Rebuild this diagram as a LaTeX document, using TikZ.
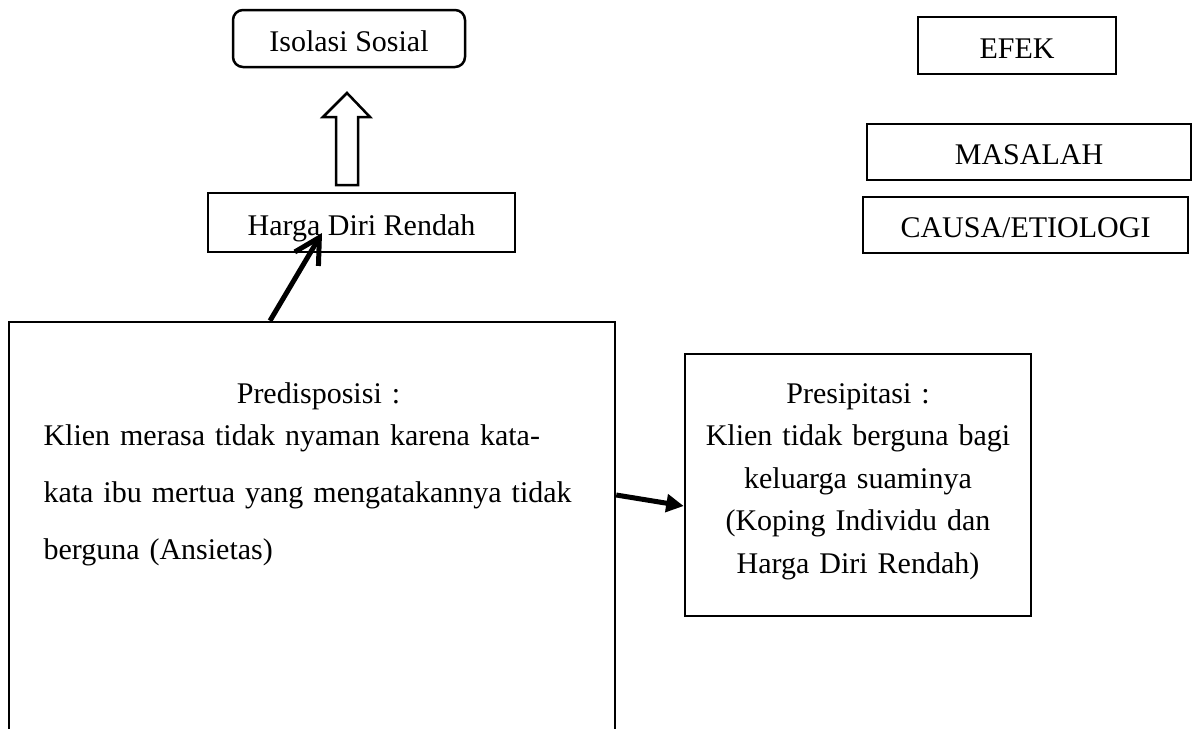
\documentclass[tikz,border=0pt]{standalone}
\usepackage{fontspec}
\setmainfont{Liberation Serif}
\usetikzlibrary{arrows.meta,positioning,calc}
\tikzset{kotak/.style={draw,line width=1pt,inner sep=0pt,text height=10pt,text depth=0pt,font=\fontsize{12}{14}\selectfont},
 bulat/.style={kotak,rounded corners=4pt},
 bingkai/.style={draw,line width=1pt,inner sep=0pt},
 teks/.style={inner sep=0pt},
 panah/.style={-{Straight Barb[length=10pt,width=11pt]},line width=2pt},
 panahb/.style={-{Triangle[length=7pt,width=7pt]},line width=2pt},
 kosong/.style={draw,line width=1pt,fill=white,line join=miter}}

\begin{document}
\begin{tikzpicture}[x=0.4pt,y=-0.4pt]
\useasboundingbox (0,0) rectangle (1192,728);
% pohon masalah
\node[bulat,minimum width=92.8pt,minimum height=22.8pt] (iso) at (349,38.5) {Isolasi Sosial};
\node[kotak,minimum width=122.8pt,minimum height=23.6pt] (harga) at (361.5,222.5) {Harga Diri Rendah};
\draw[kosong] (347,93) -- (370,117) -- (358,117) -- (358,185) -- (336,185) -- (336,117) -- (323,117) -- cycle;
% keterangan
\node[kotak,minimum width=79.2pt,minimum height=22.8pt] (efek) at (1017,45.5) {EFEK};
\node[kotak,minimum width=129.6pt,minimum height=22.4pt] (masalah) at (1029,152) {MASALAH};
\node[kotak,minimum width=130pt,minimum height=22.4pt] (causa) at (1025.5,225) {CAUSA/ETIOLOGI};
% faktor
\node[bingkai,minimum width=242.4pt,minimum height=175.2pt] (pre) at (312,541) {};
\node[teks,anchor=base west,text width=220pt,align=left,font=\fontsize{12}{16.8}\selectfont] (pretxt) at (43,403)
 {\makebox[220pt]{Predisposisi :}\\
  \makebox[220pt][s]{Klien merasa tidak nyaman karena kata-}\\[6pt]
  \makebox[220pt][s]{kata ibu mertua yang mengatakannya tidak}\\[6pt]
  berguna (Ansietas)};
\node[bingkai,minimum width=138.4pt,minimum height=104.8pt] (pres) at (858,485) {};
\node[teks,anchor=base,text width=130pt,align=center,font=\fontsize{12}{17}\selectfont] (prestxt) at (858,403)
 {Presipitasi :\\Klien tidak berguna bagi\\keluarga suaminya\\(Koping Individu dan\\Harga Diri Rendah)};
\draw[panah] ([xshift=-16.8pt]pre.north) -- ([xshift=-15.8pt,yshift=-4.2pt]harga.center);
\draw[panahb] ([yshift=18.4pt]pre.east) -- ([yshift=-8.4pt]pres.west);
\end{tikzpicture}
\end{document}
